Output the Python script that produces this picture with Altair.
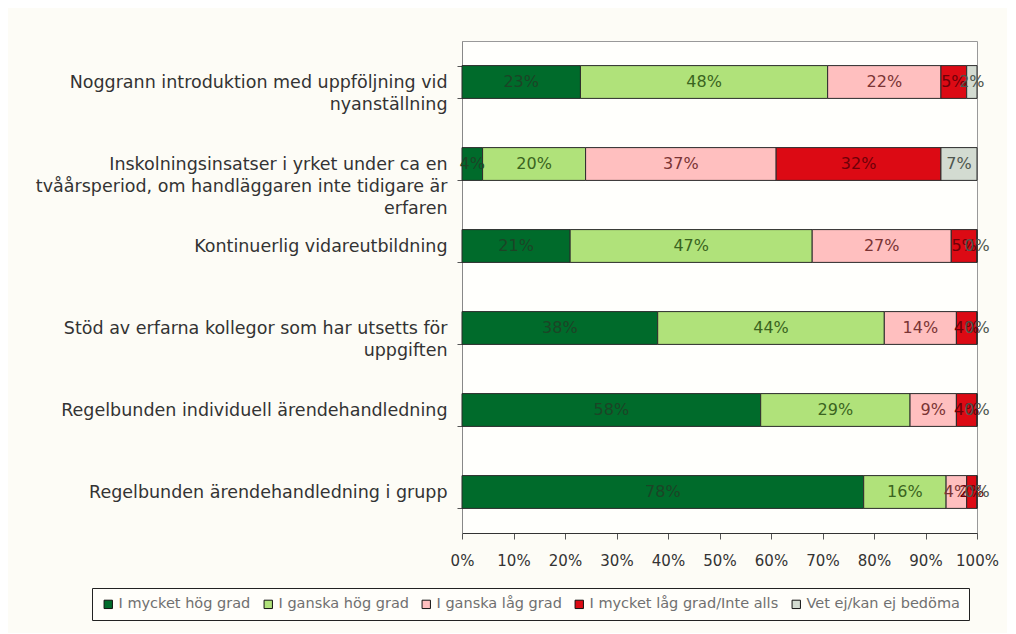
import altair as alt
import pandas as pd

items = [
    "Noggrann introduktion med uppföljning vid|nyanställning",
    "Inskolningsinsatser i yrket under ca en|tvåårsperiod, om handläggaren inte tidigare är|erfaren",
    "Kontinuerlig vidareutbildning",
    "Stöd av erfarna kollegor som har utsetts för|uppgiften",
    "Regelbunden individuell ärendehandledning",
    "Regelbunden ärendehandledning i grupp",
]
categories = [
    "I mycket hög grad",
    "I ganska hög grad",
    "I ganska låg grad",
    "I mycket låg grad/Inte alls",
    "Vet ej/kan ej bedöma",
]
mycket_hog = [23, 4, 21, 38, 58, 78]
ganska_hog = [48, 20, 47, 44, 29, 16]
ganska_lag = [22, 37, 27, 14, 9, 4]
mycket_lag = [5, 32, 5, 4, 4, 2]
vet_ej = [2, 7, 0, 0, 0, 0]
series = [mycket_hog, ganska_hog, ganska_lag, mycket_lag, vet_ej]

fill_colors = ["#006b2b", "#b0e27a", "#ffbfbf", "#dc0a14", "#d3dbd1"]
text_colors = ["#1c4426", "#3a6420", "#7a3434", "#6e0008", "#4e564e"]
x_ticks = [0, 0.1, 0.2, 0.3, 0.4, 0.5, 0.6, 0.7, 0.8, 0.9, 1.0]

rows = []
for i, item in enumerate(items):
    for j, cat in enumerate(categories):
        rows.append(dict(item=item, cat=cat, idx=j, value=series[j][i], tcolor=text_colors[j]))
df = pd.DataFrame(rows)

FONT = "DejaVu Sans"

base = alt.Chart(df).transform_stack(
    stack="value",
    groupby=["item"],
    as_=["v0", "v1"],
    offset="normalize",
    sort=[alt.SortField("idx", order="ascending")],
).transform_calculate(
    mid="(datum.v0 + datum.v1) / 2",
    label="format(datum.value, 'd') + '%'",
)

y_enc = alt.Y(
    "item:N",
    sort=items,
    scale=alt.Scale(paddingInner=0.6, paddingOuter=0.3),
    axis=alt.Axis(
        title=None,
        labelExpr="split(datum.label, '|')",
        labelFont=FONT,
        labelFontSize=17.5,
        labelColor="#333333",
        labelLineHeight=22,
        labelLimit=0,
        labelPadding=10,
        tickBand="extent",
        tickSize=5,
        tickColor="#555555",
        domainColor="#888888",
        grid=False,
    ),
)

bars = base.mark_bar(stroke="#2a2a2a", strokeWidth=1).encode(
    x=alt.X(
        "v0:Q",
        scale=alt.Scale(domain=[0, 1], nice=False),
        axis=alt.Axis(
            title=None,
            format=".0%",
            values=x_ticks,
            labelFont=FONT,
            labelFontSize=15,
            labelColor="#333333",
            labelPadding=14,
            labelOverlap=False,
            labelFlush=False,
            tickSize=6,
            tickColor="#555555",
            domainColor="#333333",
            grid=False,
        ),
    ),
    x2="v1:Q",
    y=y_enc,
    color=alt.Color(
        "cat:N",
        sort=categories,
        scale=alt.Scale(domain=categories, range=fill_colors),
        legend=alt.Legend(
            title=None,
            orient="none",
            legendX=-370,
            legendY=547,
            direction="horizontal",
            columns=5,
            columnPadding=10,
            symbolType="square",
            symbolSize=70,
            symbolStrokeColor="#111111",
            symbolStrokeWidth=1,
            labelFont=FONT,
            labelFontSize=14.5,
            labelColor="#707070",
            labelOffset=3,
            labelLimit=0,
            strokeColor="#222222",
            fillColor="#fffefa",
            padding=9,
        ),
    ),
)

text = base.mark_text(font=FONT, fontSize=16, baseline="middle", align="center").encode(
    x=alt.X("mid:Q"),
    y=y_enc,
    text="label:N",
    color=alt.Color("tcolor:N", scale=None),
)

chart = (
    alt.layer(bars, text)
    .resolve_scale(color="independent")
    .properties(
        width=515,
        height=492,
        autosize=alt.AutoSizeParams(type="none"),
        padding={"left": 454, "top": 33, "right": 30, "bottom": 100},
        background="#fdfcf6",
    )
    .configure_view(stroke="#999999", fill="#fffffc")
)

chart.save("out.html", embed_options={"renderer": "svg", "actions": False})
